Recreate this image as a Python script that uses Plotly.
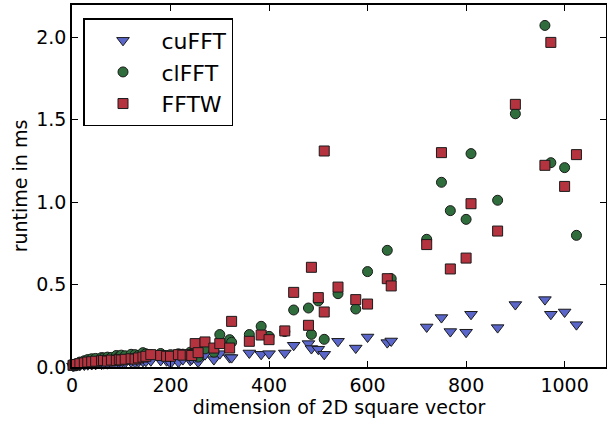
import plotly.graph_objects as go

sizes = [2, 4, 8, 16, 25, 32, 40, 48, 60, 64, 72, 80, 90, 96, 100, 108, 120, 128, 135, 144,
         150, 160, 180, 192, 200, 216, 225, 240, 243, 250, 256, 270, 288, 300, 320, 324, 360, 384, 400,
         432, 450, 480, 486, 500, 512, 540, 576, 600, 640, 648, 720, 750, 768, 800, 810, 864, 900,
         960, 972, 1000, 1024]

cufft_ms = [0.005, 0.006, 0.008, 0.010, 0.012, 0.014, 0.015, 0.016, 0.018, 0.020, 0.020, 0.022,
            0.024, 0.025, 0.025, 0.027, 0.030, 0.028, 0.032, 0.034, 0.035, 0.038, 0.040, 0.038,
            0.024, 0.030, 0.045, 0.040, 0.048,
            0.060, 0.030, 0.075, 0.045, 0.081, 0.057, 0.057, 0.085, 0.077, 0.081,
            0.085, 0.132, 0.142, 0.112, 0.108, 0.077, 0.156, 0.115, 0.182, 0.148,
            0.158, 0.243, 0.300, 0.215, 0.211, 0.320, 0.239, 0.379, 0.409, 0.320,
            0.334, 0.257]

clfft_ms = [0.012, 0.015, 0.020, 0.030, 0.038, 0.045, 0.050, 0.052, 0.057, 0.055, 0.060, 0.058,
            0.070, 0.065, 0.072, 0.068, 0.077, 0.075, 0.070, 0.087, 0.080, 0.075, 0.082, 0.070,
            0.075, 0.080, 0.078, 0.090, 0.080,
            0.090, 0.060, 0.110, 0.090, 0.197, 0.166, 0.150, 0.197, 0.247, 0.186,
            0.215, 0.346, 0.358, 0.198, 0.401, 0.168, 0.445, 0.352, 0.579, 0.708,
            0.536, 0.775, 1.121, 0.949, 0.896, 1.295, 1.012, 1.537, 2.073, 1.240,
            1.210, 0.799]

fftw_sizes = sizes + [512]
fftw_ms = [0.010, 0.012, 0.015, 0.020, 0.025, 0.030, 0.032, 0.035, 0.038, 0.040, 0.036, 0.042,
           0.040, 0.045, 0.043, 0.047, 0.050, 0.048, 0.055, 0.060, 0.065, 0.075, 0.070, 0.065,
           0.065, 0.075, 0.072, 0.075, 0.070,
           0.142, 0.087, 0.152, 0.115, 0.142, 0.115, 0.277, 0.156, 0.194, 0.166,
           0.219, 0.453, 0.253, 0.605, 0.421, 0.334, 0.485, 0.409, 0.382, 0.536,
           0.492, 0.743, 1.301, 0.595, 0.661, 0.991, 0.825, 1.594, 1.224, 1.970,
           1.096, 1.289, 1.311]

x_ticks = [0, 200, 400, 600, 800, 1000]
y_ticks = [0.0, 0.5, 1.0, 1.5, 2.0]

FONT = "DejaVu Sans"
edge = dict(color="#1a1a1a", width=1)

fig = go.Figure()
fig.add_trace(go.Scatter(x=sizes, y=cufft_ms, mode="markers", name="cuFFT", legendgroup="a",
                         cliponaxis=False,
                         marker=dict(symbol="triangle-down", size=11, color="#5a66c9", line=edge)))
fig.add_trace(go.Scatter(x=sizes, y=clfft_ms, mode="markers", name="clFFT", legendgroup="b",
                         cliponaxis=False,
                         marker=dict(symbol="circle", size=10, color="#2f6e3c", line=edge)))
fig.add_trace(go.Scatter(x=fftw_sizes, y=fftw_ms, mode="markers", name="FFTW", legendgroup="c",
                         cliponaxis=False,
                         marker=dict(symbol="square", size=10, color="#b5333f", line=edge)))

axis_common = dict(showline=True, linecolor="black", linewidth=1.5, mirror="ticks",
                   ticks="inside", ticklen=6, tickwidth=1, tickcolor="black",
                   showgrid=False, zeroline=False, automargin=False,
                   tickfont=dict(family=FONT, size=19, color="black"))

fig.update_layout(
    width=607, height=423, autosize=False,
    margin=dict(l=72, r=1, t=5, b=56),
    paper_bgcolor="white", plot_bgcolor="white",
    font=dict(family=FONT, size=19, color="black"),
    xaxis=dict(range=[0, 1084], tickvals=x_ticks, ticktext=[str(v) for v in x_ticks],
               title=dict(text="dimension of 2D square vector", font=dict(family=FONT, size=19),
                          standoff=4),
               **axis_common),
    yaxis=dict(range=[0, 2.197], tickvals=y_ticks, ticktext=[f"{v:.1f}" for v in y_ticks],
               title=dict(text="runtime in ms", font=dict(family=FONT, size=19), standoff=4),
               **axis_common),
    legend=dict(x=0.0206, y=0.964, xanchor="left", yanchor="top",
                bgcolor="white", bordercolor="black", borderwidth=1.5,
                font=dict(family=FONT, size=22, color="black"),
                tracegroupgap=0, itemwidth=67),
    showlegend=True,
)

fig.write_html("out.html", config={"displayModeBar": False},
               post_script="document.body.style.margin='0';")
